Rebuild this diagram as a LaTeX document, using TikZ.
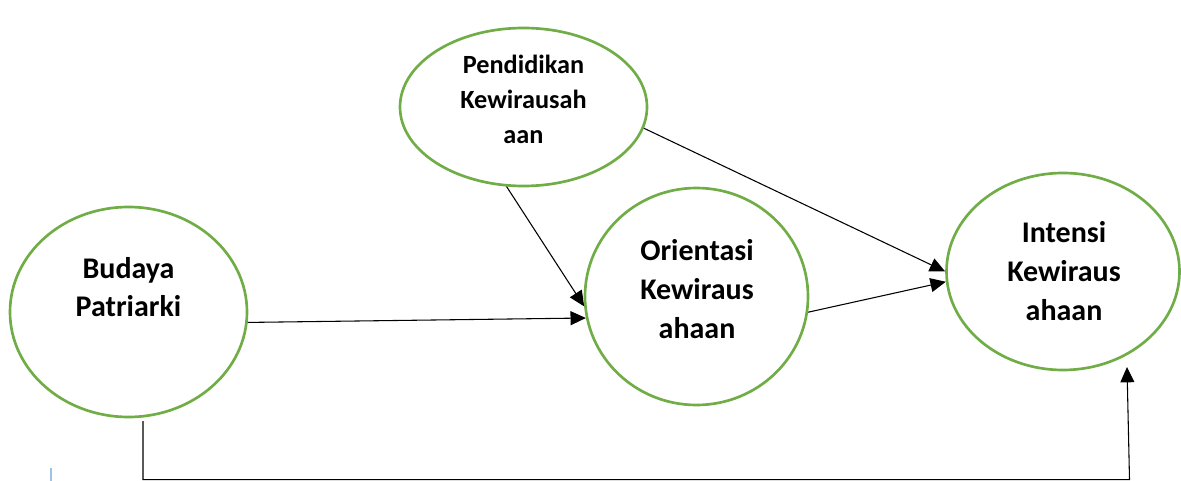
\documentclass[tikz,border=0pt]{standalone}
\usepackage{fontspec}
\setmainfont{Carlito}[BoldFont={Carlito Bold}]
\usetikzlibrary{arrows.meta,shapes.geometric,calc}
\definecolor{ellgreen}{RGB}{112,173,71}
\definecolor{cursorblue}{RGB}{157,195,230}
\begin{document}
\begin{tikzpicture}[x=0.75pt,y=-0.75pt,
  construct/.style={ellipse, draw=ellgreen, line width=2pt, inner sep=0pt},
  lbl/.style={font=\bfseries\fontsize{22.5}{29.25}\selectfont, align=center, inner sep=0pt},
  smalllbl/.style={lbl, font=\bfseries\fontsize{19.7}{26.25}\selectfont},
  link/.style={draw=black, line width=0.8pt, -{Triangle[length=11.5pt,width=10.5pt]}}]
\useasboundingbox (0,0) rectangle (1181,481);

% constructs
\node[construct, minimum width=185.25pt, minimum height=118.5pt] (pend) at (523.5,107) {};
\node[construct, minimum width=177.75pt, minimum height=157.5pt] (bud) at (128.5,312) {};
\node[construct, minimum width=167.25pt, minimum height=162.75pt] (orient) at (696.5,296.5) {};
\node[construct, minimum width=174.75pt, minimum height=147.75pt] (int) at (1063,271.5) {};

% labels
\node[smalllbl] (pendtxt) at (523.5,99.5) {Pendidikan\\Kewirausah\\aan};
\node[lbl, font=\bfseries\fontsize{22.5}{28.5}\selectfont] (budtxt) at (128.5,287) {Budaya\\Patriarki};
\node[lbl] (orienttxt) at (697,289.5) {Orientasi\\Kewiraus\\ahaan};
\node[lbl] (inttxt) at (1064,271.5) {Intensi\\Kewiraus\\ahaan};

% connectors
\draw[link] (pend.258.5) -- (orient.185.9);
\draw[link] (bud.355.2) -- (orient.191.4);
\draw[link] (pend.350.2) -- (int.180);
\draw[link] (orient.352.6) -- (int.185.7);

\coordinate (budfoot) at (143,421);
\coordinate (cornerL) at (143,479.6);
\coordinate (cornerR) at (1129.5,479.6);
\coordinate (inttip) at (1127,367);
\draw[link] (budfoot) -- (cornerL) -- (cornerR) -- (inttip);

% stray cursor mark
\draw[cursorblue, line width=0.8pt] (51,468) -- (51,481);
\end{tikzpicture}
\end{document}
